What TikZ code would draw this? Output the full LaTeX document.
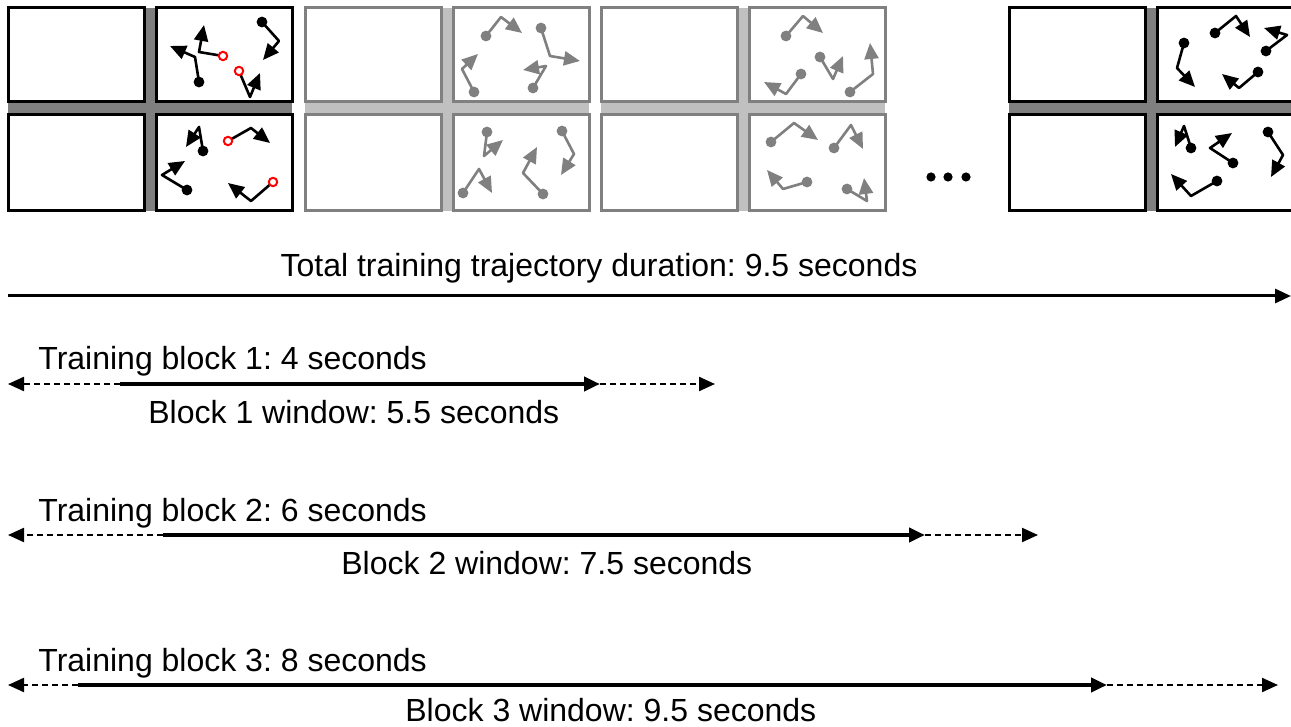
\documentclass[tikz,border=0pt]{standalone}
\usepackage{fontspec}
\setmainfont{Liberation Sans}
\usetikzlibrary{arrows.meta}
\definecolor{darkbar}{HTML}{7F7F7F}
\definecolor{lightbar}{HTML}{C0C0C0}
\definecolor{midgray}{HTML}{808080}
\frenchspacing
\tikzset{
  lbl/.style={inner sep=0pt, font=\fontsize{16}{18}\selectfont},
  panelbox/.style={line width=1.5pt, fill=white},
  trajline/.style={line width=1.3pt, line join=round, -{Triangle[length=8pt,width=7pt]}},
  startdot/.style={inner sep=0pt, minimum size=5.4pt, circle, fill=#1},
  startring/.style={inner sep=0pt, minimum size=4.2pt, circle, draw=red, line width=1pt, fill=white},
  mainline/.style={line width=1.5pt, -{Triangle[length=8pt,width=7pt]}},
  solidline/.style={line width=2pt, -{Triangle[length=8pt,width=7pt]}},
  dashline/.style={line width=1.1pt, dash pattern=on 3pt off 2pt, -{Triangle[length=8pt,width=7pt]}},
}
% group of four panels: #1 x offset, #2 border colour, #3 bar colour
\newcommand\mygroup[3]{%
  \fill[#3] (#1,8) rectangle (#1+284,211);
  \draw[panelbox, draw=#2] (#1,8) rectangle (#1+136,102);
  \draw[panelbox, draw=#2] (#1,115) rectangle (#1+136,211);
  \draw[panelbox, draw=#2] (#1+148,8) rectangle (#1+284,102);
  \draw[panelbox, draw=#2] (#1+148,115) rectangle (#1+284,211);
}
% trajectory: #1 colour, #2 name, #3 start, #4 bend, #5 end
\newcommand\mytrajdot[5]{%
  \coordinate (#2s) at #3; \coordinate (#2m) at #4; \coordinate (#2e) at #5;
  \draw[trajline, draw=#1] (#2s) -- (#2m) -- (#2e);
  \node[startdot=#1] (#2n) at (#2s) {};
}
\newcommand\mytrajring[5]{%
  \coordinate (#2s) at #3; \coordinate (#2m) at #4; \coordinate (#2e) at #5;
  \draw[trajline, draw=#1] (#2s) -- (#2m) -- (#2e);
  \node[startring] (#2n) at (#2s) {};
}
\begin{document}
\begin{tikzpicture}[x=0.5pt,y=-0.5pt]
\useasboundingbox (0,0) rectangle (1291,727);

% panel groups
\mygroup{8}{black}{darkbar}
\mygroup{305}{midgray}{lightbar}
\mygroup{601}{midgray}{lightbar}
\begin{scope}
\clip (0,0) rectangle (1291,727);
\mygroup{1009}{black}{darkbar}
\end{scope}

% group 1 trajectories
\mytrajdot{black}{a}{(199,82)}{(195,57)}{(170,46)}
\mytrajring{black}{b}{(223,56)}{(199,52)}{(204,25)}
\mytrajdot{black}{c}{(262,22)}{(279,41)}{(263,60)}
\mytrajring{black}{d}{(239,71)}{(250,97)}{(260,73)}
\mytrajdot{black}{e}{(203,151)}{(199,127)}{(186,147)}
\mytrajring{black}{f}{(228,141)}{(251,128)}{(270,143)}
\mytrajdot{black}{g}{(187,190)}{(162,175)}{(185,161)}
\mytrajring{black}{h}{(273,182)}{(251,201)}{(228,183)}

% group 2 trajectories
\mytrajdot{midgray}{i}{(486,36)}{(501,17)}{(522,33)}
\mytrajdot{midgray}{j}{(541,28)}{(550,56)}{(580,61)}
\mytrajdot{midgray}{k}{(474,92)}{(462,69)}{(478,54)}
\mytrajdot{midgray}{l}{(533,88)}{(546,66)}{(523,70)}
\mytrajdot{midgray}{m}{(487,132)}{(484,156)}{(503,140)}
\mytrajdot{midgray}{n}{(463,193)}{(479,169)}{(492,193)}
\mytrajdot{midgray}{o}{(543,194)}{(523,173)}{(537,147)}
\mytrajdot{midgray}{p}{(562,131)}{(574,154)}{(561,175)}

% group 3 trajectories
\mytrajdot{midgray}{q}{(786,36)}{(803,16)}{(823,33)}
\mytrajdot{midgray}{r}{(820,57)}{(833,79)}{(843,56)}
\mytrajdot{midgray}{s}{(801,74)}{(786,94)}{(764,82)}
\mytrajdot{midgray}{t}{(850,92)}{(873,74)}{(870,43)}
\mytrajdot{midgray}{u}{(771,142)}{(794,123)}{(818,140)}
\mytrajdot{midgray}{v}{(834,148)}{(851,125)}{(863,149)}
\mytrajdot{midgray}{w}{(807,182)}{(783,189)}{(767,170)}
\mytrajdot{midgray}{x}{(847,189)}{(867,201)}{(864,178)}

% group 4 trajectories
\mytrajdot{black}{y}{(1184,43)}{(1177,68)}{(1195,87)}
\mytrajdot{black}{z}{(1215,33)}{(1236,16)}{(1250,37)}
\mytrajdot{black}{aa}{(1266,51)}{(1287,35)}{(1264,28)}
\mytrajdot{black}{ab}{(1258,72)}{(1239,88)}{(1222,74)}
\mytrajdot{black}{ac}{(1191,148)}{(1184,126)}{(1175,147)}
\mytrajdot{black}{ad}{(1233,163)}{(1210,148)}{(1232,133)}
\mytrajdot{black}{ae}{(1268,132)}{(1283,155)}{(1271,177)}
\mytrajdot{black}{af}{(1217,181)}{(1191,196)}{(1171,174)}

% ellipsis
\node[startdot=black, minimum size=4.6pt] (dot1) at (931,177) {};
\node[startdot=black, minimum size=4.6pt] (dot2) at (948,177) {};
\node[startdot=black, minimum size=4.6pt] (dot3) at (966,177) {};

% total duration
\node[lbl, anchor=base] (totaltxt) at (599,277) {Total training trajectory duration: 9.5 seconds};
\coordinate (t0) at (8,296);
\coordinate (t1) at (1291,296);
\draw[mainline] (t0) -- (t1);

% block 1
\node[lbl, anchor=base west] (b1txt) at (38,370) {Training block 1: 4 seconds};
\node[lbl, anchor=base west] (w1txt) at (148,423) {Block 1 window: 5.5 seconds};
\coordinate (b1l) at (8,384);
\coordinate (b1a) at (120,384);
\coordinate (b1b) at (600,384);
\coordinate (b1r) at (715,384);
\draw[dashline] (b1a) -- (b1l);
\draw[solidline] (b1a) -- (b1b);
\draw[dashline] (b1b) -- (b1r);

% block 2
\node[lbl, anchor=base west] (b2txt) at (38,521) {Training block 2: 6 seconds};
\node[lbl, anchor=base west] (w2txt) at (341,574) {Block 2 window: 7.5 seconds};
\coordinate (b2l) at (8,535);
\coordinate (b2a) at (163,535);
\coordinate (b2b) at (925,535);
\coordinate (b2r) at (1038,535);
\draw[dashline] (b2a) -- (b2l);
\draw[solidline] (b2a) -- (b2b);
\draw[dashline] (b2b) -- (b2r);

% block 3
\node[lbl, anchor=base west] (b3txt) at (38,671) {Training block 3: 8 seconds};
\node[lbl, anchor=base west] (w3txt) at (405,721) {Block 3 window: 9.5 seconds};
\coordinate (b3l) at (8,685);
\coordinate (b3a) at (78,685);
\coordinate (b3b) at (1107,685);
\coordinate (b3r) at (1278,685);
\draw[dashline] (b3a) -- (b3l);
\draw[solidline] (b3a) -- (b3b);
\draw[dashline] (b3b) -- (b3r);
\end{tikzpicture}
\end{document}
